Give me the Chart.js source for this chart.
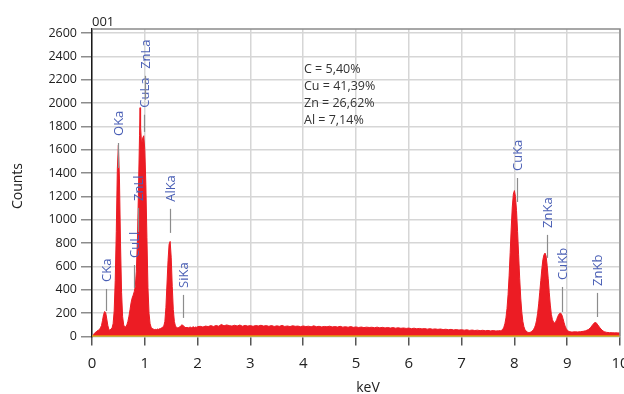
<!DOCTYPE html>
<html>
<head>
<meta charset="utf-8">
<script src="https://cdn.jsdelivr.net/npm/chart.js@4/dist/chart.umd.min.js"></script>
<style>
html,body{margin:0;padding:0;background:#fff;}
canvas{display:block;}
</style>
</head>
<body>
<canvas id="eds" width="624" height="394"></canvas>
<script>
// spectrum 001 : low energy part (L lines, C, O, Al, Si)
var energyLow=[
  0,0.02,0.04,0.06,0.08,0.10,0.12,0.14,0.16,0.18,
  0.20,0.22,0.24,0.26,0.28,0.30,0.32,0.34,0.36,0.38,
  0.40,0.42,0.44,0.46,0.48,0.50,0.52,0.54,0.56,0.58,
  0.60,0.62,0.64,0.66,0.68,0.70,0.72,0.74,0.76,0.78,
  0.80,0.82,0.84,0.86,0.88,0.90,0.91,0.92,0.94,0.96,
  0.98,1.00,1.02,1.04,1.06,1.08,1.10,1.12,1.14,1.16,
  1.18,1.20,1.22,1.24,1.26,1.28,1.30,1.32,1.34,1.36,
  1.38,1.40,1.42,1.44,1.46,1.48,1.50,1.52,1.54,1.56,
  1.58,1.60,1.62,1.64,1.66,1.68,1.70,1.72,1.74,1.76,
  1.78,1.80,1.82,1.84,1.86,1.88,1.90,1.92,1.94,1.96,
  1.98,2.00
];
var countsLow=[
  0,5,25,35,40,50,55,60,75,95,
  140,190,215,205,150,95,60,55,65,75,
  110,220,480,900,1440,1640,1350,800,380,170,
  100,80,85,100,130,175,230,290,330,355,
  385,430,560,820,1250,1720,1960,1800,1640,1700,
  1720,1600,1300,850,420,200,110,80,70,65,
  60,62,60,65,62,68,70,75,82,90,
  130,250,450,650,790,815,680,430,230,130,
  90,80,75,78,82,92,100,98,88,80,
  76,80,74,78,82,76,80,84,78,82,
  80,85
];

// bremsstrahlung background between the peaks
var energyMid=[
  2.05,2.10,2.15,2.20,2.25,2.30,2.35,2.40,2.45,2.50,
  2.55,2.60,2.65,2.70,2.75,2.80,2.85,2.90,2.95,3.00,
  3.05,3.10,3.15,3.20,3.25,3.30,3.35,3.40,3.45,3.50,
  3.55,3.60,3.65,3.70,3.75,3.80,3.85,3.90,3.95,4.00,
  4.05,4.10,4.15,4.20,4.25,4.30,4.35,4.40,4.45,4.50,
  4.55,4.60,4.65,4.70,4.75,4.80,4.85,4.90,4.95,5.00,
  5.05,5.10,5.15,5.20,5.25,5.30,5.35,5.40,5.45,5.50,
  5.55,5.60,5.65,5.70,5.75,5.80,5.85,5.90,5.95,6.00,
  6.05,6.10,6.15,6.20,6.25,6.30,6.35,6.40,6.45,6.50,
  6.55,6.60,6.65,6.70,6.75,6.80,6.85,6.90,6.95,7.00,
  7.05,7.10,7.15,7.20,7.25,7.30,7.35,7.40,7.45,7.50,
  7.55,7.60,7.65,7.70
];
var countsMid=[
  88,82,90,86,94,87,95,89,104,92,
  100,94,90,97,91,99,89,96,90,94,
  88,95,91,97,90,94,88,95,87,92,
  88,96,87,91,86,93,88,90,85,91,
  86,89,84,92,85,88,83,87,84,89,
  83,86,82,88,81,85,80,86,79,83,
  78,82,77,81,78,80,76,81,75,79,
  74,78,73,77,72,76,71,74,70,73,
  68,72,67,70,66,69,64,68,63,66,
  62,65,60,63,59,62,57,60,56,59,
  55,58,53,56,52,55,51,54,50,53,
  49,52,48,50
];

// K lines of Cu and Zn
var energyHigh=[
  7.72,7.74,7.76,7.78,7.80,7.82,7.84,7.86,7.88,7.90,
  7.92,7.94,7.96,7.98,8.00,8.02,8.04,8.06,8.08,8.10,
  8.12,8.14,8.16,8.18,8.20,8.22,8.24,8.26,8.28,8.30,
  8.32,8.34,8.36,8.38,8.40,8.42,8.44,8.46,8.48,8.50,
  8.52,8.54,8.56,8.58,8.60,8.62,8.64,8.66,8.68,8.70,
  8.72,8.74,8.76,8.78,8.80,8.82,8.84,8.86,8.88,8.90,
  8.92,8.94,8.96,8.98,9.00,9.02,9.04,9.06,9.08,9.10,
  9.15,9.20,9.25,9.30,9.35,9.40,9.44,9.48,9.52,9.55,
  9.58,9.62,9.66,9.70,9.75,9.80,9.85,9.90,9.95,10.00
];
var countsHigh=[
  52,50,55,62,80,110,160,240,360,520,
  720,930,1110,1220,1250,1200,1080,900,700,500,
  330,210,130,85,60,48,40,36,35,37,
  42,50,60,75,100,140,200,280,380,480,
  580,660,700,715,690,610,500,380,270,190,
  145,125,118,125,145,170,190,200,200,185,
  155,120,90,70,55,48,44,42,40,40,
  41,40,42,45,50,60,75,100,120,118,
  100,75,55,42,36,34,33,32,32,30
];

var xTicks=[0,1,2,3,4,5,6,7,8,9,10];
var yTicks=[0,200,400,600,800,1000,1200,1400,1600,1800,2000,2200,2400,2600];

// peak markers: name, energy (keV), marker line from/to (counts)
var peakNames =["CKa","OKa","CuLl","ZnLl","CuLa","ZnLa","AlKa","SiKa","CuKa","ZnKa","CuKb","ZnKb"];
var peakEnergy=[0.265,0.498,0.795,0.877,0.985,1.01,1.477,1.73,8.04,8.62,8.91,9.57];
var peakLineLow =[219,1444,417,896,1753,2028,888,160,1153,674,211,168];
var peakLineHigh=[408,1658,613,1102,1900,2233,1094,357,1358,871,425,374];

var composition=["C = 5,40%","Cu = 41,39%","Zn = 26,62%","Al = 7,14%"];

var spectrum=[];
function addPoints(e,c){
  for(var i=0;i<e.length;i++){spectrum.push({x:e[i],y:c[i]});}
}
addPoints(energyLow,countsLow);
addPoints(energyMid,countsMid);
addPoints(energyHigh,countsHigh);

var decor={
  id:'decor',
  afterDatasetsDraw:function(chart){
    var ctx=chart.ctx, xs=chart.scales.x, ys=chart.scales.y;
    ctx.save();
    ctx.strokeStyle='#8c8c8c';
    ctx.lineWidth=1.2;
    ctx.fillStyle='#4a5fb5';
    ctx.font='13px "Open Sans"';
    ctx.textAlign='left';
    ctx.textBaseline='middle';
    for(var i=0;i<peakNames.length;i++){
      var px=Math.round(xs.getPixelForValue(peakEnergy[i]))+0.5;
      var lo=ys.getPixelForValue(peakLineLow[i]);
      var hi=ys.getPixelForValue(peakLineHigh[i]);
      ctx.beginPath();ctx.moveTo(px,lo);ctx.lineTo(px,hi);ctx.stroke();
      ctx.save();
      ctx.translate(px+1,hi-7);
      ctx.rotate(-Math.PI/2);
      ctx.fillText(peakNames[i],0,0);
      ctx.restore();
    }
    ctx.restore();
  },
  afterDraw:function(chart){
    var ctx=chart.ctx, a=chart.chartArea;
    ctx.save();
    // top and right frame
    ctx.strokeStyle='#8a8a8a';
    ctx.lineWidth=1.5;
    ctx.beginPath();
    ctx.moveTo(a.left,a.top);ctx.lineTo(a.right,a.top);ctx.lineTo(a.right,a.bottom);
    ctx.stroke();

    ctx.fillStyle='#222';
    ctx.font='13px "Open Sans"';
    ctx.textAlign='left';
    ctx.textBaseline='alphabetic';
    ctx.fillText('001',a.left,26);

    ctx.font='12.5px "Open Sans"';
    ctx.fillStyle='#333';
    ctx.textBaseline='middle';
    for(var i=0;i<composition.length;i++){
      ctx.fillText(composition[i],304,69+i*17);
    }

    ctx.fillStyle='#222';
    ctx.font='14px "Open Sans"';
    ctx.textAlign='center';
    ctx.fillText('keV',368,388);
    ctx.translate(18.5,186);
    ctx.rotate(-Math.PI/2);
    ctx.fillText('Counts',0,0);
    ctx.restore();
  }
};

function plainLabel(v){return String(v);}

new Chart(document.getElementById('eds'),{
  type:'line',
  data:{
    datasets:[
      {
        label:'baseline',
        data:[{x:0,y:0},{x:10,y:0}],
        borderColor:'#e8d500',
        borderWidth:2,
        pointRadius:0,
        fill:false
      },
      {
        label:'001',
        data:spectrum,
        borderColor:'#ec1c24',
        backgroundColor:'#ec1c24',
        borderWidth:1,
        pointRadius:0,
        tension:0,
        fill:'origin'
      }
    ]
  },
  options:{
    responsive:false,
    animation:false,
    events:[],
    layout:{padding:{left:0,right:4,top:29,bottom:0}},
    plugins:{legend:{display:false},tooltip:{enabled:false},title:{display:false}},
    scales:{
      x:{
        type:'linear',
        min:0,max:10,
        grid:{color:'#d6d6d6',lineWidth:1.5,tickLength:9,tickColor:'#555'},
        border:{color:'#999',width:1},
        ticks:{padding:9,color:'#222',font:{family:'Open Sans',size:15},callback:plainLabel},
        afterBuildTicks:function(s){s.ticks=xTicks.map(function(v){return {value:v};});},
        afterFit:function(s){s.height=57.4;s.paddingLeft=0;s.paddingRight=0;}
      },
      y:{
        min:0,max:2634,
        grid:{color:'#d6d6d6',lineWidth:1.5,tickLength:11,tickColor:'#8c8c8c'},
        border:{color:'#1a1a1a',width:1.5},
        ticks:{padding:4,color:'#222',font:{family:'Open Sans',size:12.5},callback:plainLabel},
        afterBuildTicks:function(s){s.ticks=yTicks.map(function(v){return {value:v};});},
        afterFit:function(s){s.width=92;s.paddingTop=0;s.paddingBottom=0;}
      }
    }
  },
  plugins:[decor]
});
</script>
</body>
</html>
